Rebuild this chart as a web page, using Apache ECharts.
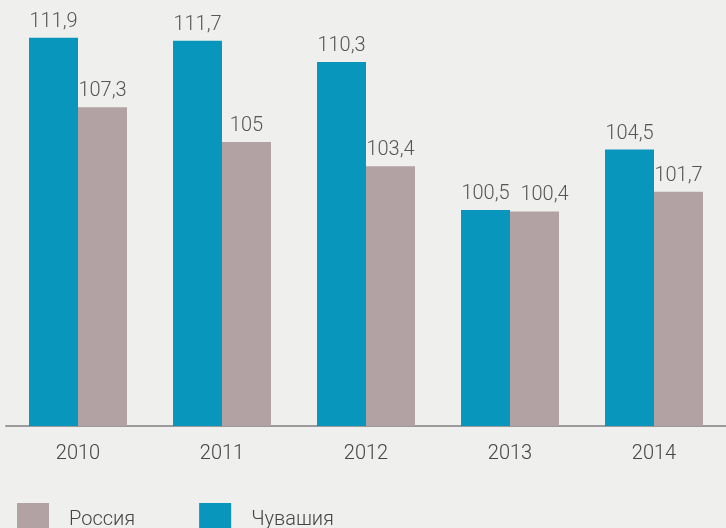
<!DOCTYPE html>
<html>
<head>
<meta charset="utf-8">
<script src="https://cdn.jsdelivr.net/npm/echarts@6/dist/echarts.min.js"></script>
<style>
html, body { margin: 0; padding: 0; background: #efefed; }
#chart { width: 726px; height: 528px; }
</style>
</head>
<body>
<div id="chart"></div>
<script>
// годы и значения
var years = ['2010', '2011', '2012', '2013', '2014']
var chuvashia = [111.9, 111.7, 110.3, 100.5, 104.5]
var russia = [107.3, 105, 103.4, 100.4, 101.7]

var myChart = echarts.init(document.getElementById('chart'))
var labelFmt = function (p) {
    return String(p.value).replace('.', ',')
}
var font = 'Roboto, "Liberation Sans", sans-serif'
// в 2013 подписи почти на одной высоте - сдвигаем подпись России вправо
var russiaData = russia.map(function (v, i) {
    return i == 3 ? { value: v, label: { offset: [10, 0] } } : v
})
var option = {
    backgroundColor: '#efefed',
    animation: false,
    grid: { left: 6, right: 0, top: 0, bottom: 102 },
    legend: {
        data: ['Россия', 'Чувашия'],
        left: 12,
        top: 498,
        itemWidth: 32,
        itemHeight: 34,
        itemGap: 64,
        icon: 'rect',
        textStyle: { fontFamily: font, fontSize: 20, fontWeight: 300, color: '#444', padding: [0, 0, 0, 15] }
    },
    xAxis: {
        type: 'category',
        data: years,
        axisLine: { lineStyle: { color: '#9a9a9a', width: 2 } },
        axisTick: { length: 12, lineStyle: { color: '#9a9a9a', width: 2 } },
        axisLabel: { fontFamily: font, fontSize: 20, fontWeight: 300, color: '#444', margin: 18 }
    },
    yAxis: {
        type: 'value',
        min: 86.2,
        max: 114.4,
        show: false
    },
    series: [
        {
            name: 'Чувашия',
            type: 'bar',
            data: chuvashia,
            barWidth: 49,
            barGap: '0%',
            itemStyle: { color: '#0896bc' },
            label: { show: true, position: 'top', distance: 6, formatter: labelFmt, fontFamily: font, fontSize: 20, fontWeight: 300, color: '#555' }
        },
        {
            name: 'Россия',
            type: 'bar',
            data: russiaData,
            barWidth: 49,
            itemStyle: { color: '#b3a2a3' },
            label: { show: true, position: 'top', distance: 6, formatter: labelFmt, fontFamily: font, fontSize: 20, fontWeight: 300, color: '#555' }
        }
    ]
}
myChart.setOption(option)
</script>
</body>
</html>
